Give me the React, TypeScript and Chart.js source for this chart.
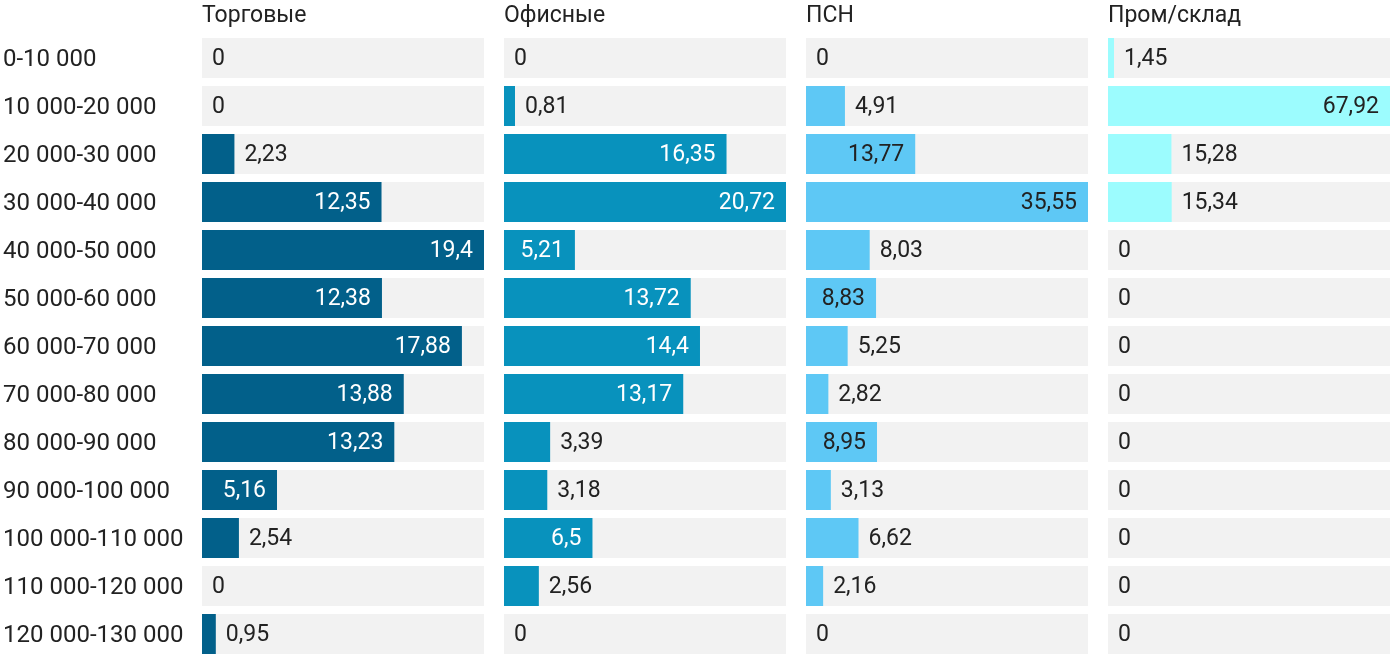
import React, { useEffect, useRef } from "react";
import { Chart, registerables } from "chart.js";

Chart.register(...registerables);

const categories = [
  "0-10 000",
  "10 000-20 000",
  "20 000-30 000",
  "30 000-40 000",
  "40 000-50 000",
  "50 000-60 000",
  "60 000-70 000",
  "70 000-80 000",
  "80 000-90 000",
  "90 000-100 000",
  "100 000-110 000",
  "110 000-120 000",
  "120 000-130 000",
];

const panelTitles = ["Торговые", "Офисные", "ПСН", "Пром/склад"];

const retail = [0, 0, 2.23, 12.35, 19.4, 12.38, 17.88, 13.88, 13.23, 5.16, 2.54, 0, 0.95];
const office = [0, 0.81, 16.35, 20.72, 5.21, 13.72, 14.4, 13.17, 3.39, 3.18, 6.5, 2.56, 0];
const psn = [0, 4.91, 13.77, 35.55, 8.03, 8.83, 5.25, 2.82, 8.95, 3.13, 6.62, 2.16, 0];
const industrial = [1.45, 67.92, 15.28, 15.34, 0, 0, 0, 0, 0, 0, 0, 0, 0];

const panelValues = [retail, office, psn, industrial];
const panelColors = ["#02608a", "#0892bd", "#5ec8f5", "#9cfcfe"];
const insideTextColors = ["#ffffff", "#ffffff", "#222222", "#222222"];

const FONT = "Roboto";
const FONT_SIZE = 23;
const ROW_FONT_SIZE = 24;
const TEXT = "#222222";
const BG = "#f2f2f2";
// panel widths (weights): the last panel has no trailing gap
const panelWeights = [302, 302, 302, 282];
const barSpan = 282;

const fmt = (v: number) => String(v).replace(".", ",");

const valueLabels = {
  id: "valueLabels",
  afterDatasetsDraw(chart: any) {
    const ctx = chart.ctx;
    ctx.save();
    ctx.font = `${FONT_SIZE}px ${FONT}`;
    ctx.textBaseline = "middle";
    chart.data.datasets.forEach((ds: any, di: number) => {
      const p = ds.panelIndex;
      if (p === undefined || ds.isBackground) return;
      const meta = chart.getDatasetMeta(di);
      meta.data.forEach((el: any, i: number) => {
        const txt = fmt(ds.data[i]);
        const w = ctx.measureText(txt).width;
        const barW = el.x - el.base;
        if (barW >= w + 24) {
          ctx.fillStyle = insideTextColors[p];
          ctx.textAlign = "right";
          ctx.fillText(txt, el.x - 11, el.y + 1);
        } else {
          ctx.fillStyle = TEXT;
          ctx.textAlign = "left";
          ctx.fillText(txt, el.x + 10, el.y + 1);
        }
      });
    });
    ctx.restore();
  },
};

export default function App() {
  const ref = useRef<HTMLCanvasElement>(null);

  useEffect(() => {
    if (!ref.current) return;
    const panelMax = panelValues.map((vals) => Math.max(...vals));

    const datasets: any[] = [];
    panelValues.forEach((vals, p) => {
      datasets.push({
        label: panelTitles[p],
        data: vals,
        backgroundColor: panelColors[p],
        xAxisID: "x" + p,
        yAxisID: "y",
        order: 1,
        grouped: false,
        panelIndex: p,
      });
      datasets.push({
        label: panelTitles[p] + " bg",
        data: vals.map(() => panelMax[p]),
        backgroundColor: BG,
        xAxisID: "x" + p,
        yAxisID: "y",
        order: 2,
        grouped: false,
        panelIndex: p,
        isBackground: true,
      });
    });

    const scales: any = {
      y: {
        type: "category",
        axis: "y",
        position: "left",
        offset: true,
        grid: { display: false, drawTicks: false },
        border: { display: false },
        ticks: {
          crossAlign: "far",
          padding: 0,
          labelOffset: 1.5,
          color: TEXT,
          font: { family: FONT, size: ROW_FONT_SIZE },
        },
        afterFit: (s: any) => {
          s.width = 199;
          s.paddingTop = 0;
          s.paddingBottom = 0;
        },
      },
    };
    panelValues.forEach((_, p) => {
      scales["x" + p] = {
        type: "linear",
        axis: "x",
        position: "top",
        stack: "panels",
        weight: 10 - p,
        stackWeight: panelWeights[p],
        min: 0,
        max: (panelMax[p] * panelWeights[p]) / barSpan,
        grid: { display: false, drawTicks: false },
        border: { display: false },
        ticks: { display: false },
        title: {
          display: true,
          text: panelTitles[p],
          align: "start",
          color: TEXT,
          font: { family: FONT, size: FONT_SIZE, lineHeight: 1.2 },
          padding: { top: 2, bottom: 4.4 },
        },
      };
    });

    const chart = new Chart(ref.current, {
      type: "bar",
      data: { labels: categories, datasets },
      options: {
        indexAxis: "y",
        animation: false,
        responsive: true,
        maintainAspectRatio: false,
        layout: { padding: { left: 3, right: 10, top: 0, bottom: 12 } },
        datasets: {
          bar: { categoryPercentage: 1, barPercentage: 40 / 48 },
        },
        plugins: {
          legend: { display: false },
          tooltip: { enabled: false },
        },
        scales,
      } as any,
      plugins: [valueLabels],
    });

    (document as any).fonts?.ready?.then(() => chart.update());

    return () => chart.destroy();
  }, []);

  return (
    <div style={{ position: "absolute", left: 0, top: 0, width: 1400, height: 670, background: "#fff" }}>
      <canvas ref={ref} />
    </div>
  );
}
